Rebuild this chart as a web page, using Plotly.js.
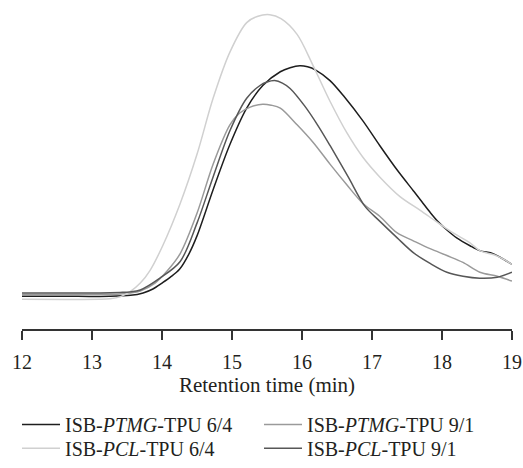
<!DOCTYPE html>
<html>
<head>
<meta charset="utf-8">
<script src="https://cdn.plot.ly/plotly-3.0.1.min.js"></script>
<style>html,body{margin:0;padding:0;background:#fff;}#chart{width:523px;height:468px;}</style>
</head>
<body>
<div id="chart"></div>
<script>
// Retention time (min) and detector response (arbitrary units)
const ptmg64_x = [12.0,12.8,13.25,13.55,13.73,13.87,14.0,14.12,14.25,14.38,14.5,14.73,14.97,15.21,15.44,15.69,15.83,15.97,16.08,16.19,16.4,16.61,16.87,17.11,17.36,17.59,17.71,17.83,17.95,18.07,18.21,18.4,18.54,18.73,18.86,19.0];
const ptmg64_y = [33.5,33.5,33.5,34.5,37,41,47,53,61,76,95,142,188,225,248,262,266,268,267,264,253,236,212,187,162,141,130,119,109,101,93,85,80,77,72,66];

const ptmg91_x = [12,13.11,13.4,13.54,13.69,13.9,14.07,14.26,14.5,14.73,14.97,15.11,15.26,15.44,15.56,15.69,15.93,16.16,16.4,16.64,16.87,17.11,17.36,17.59,17.83,18.07,18.3,18.54,18.79,19.0];
const ptmg91_y = [35.5,35.5,36,37,39,47,59,77,118,168,208,220,226,229,228,225,208,190,168,147,128,115,98,90,82,75,68,58,54,49];

const pcl64_x = [12.0,13.11,13.26,13.4,13.54,13.69,13.83,14.01,14.26,14.5,14.73,14.97,15.21,15.37,15.54,15.7,15.93,16.16,16.4,16.64,16.87,17.11,17.4,17.69,17.93,18.16,18.4,18.54,18.73,18.86,19.0];
const pcl64_y = [30.5,30.5,31,33,38,47,60,85,128,178,235,282,312,318.5,320,316,300,268,232,200,175,155,135,121,109,98,88,80,76,72,66];

const pcl91_x = [12,13.11,13.4,13.54,13.69,13.97,14.26,14.5,14.73,14.97,15.21,15.4,15.5,15.61,15.72,15.83,16.04,16.23,16.4,16.66,16.9,17.11,17.36,17.59,17.83,18.07,18.3,18.54,18.79,19.0];
const pcl91_y = [37,37,37.5,38,40,52,69,108,155,202,235,248,251.5,253,250.5,245,227,207,187,155,125,110,93,78,67,58,54,52,53,58];

const names = ['ISB-<i>PTMG</i>-TPU 6/4','ISB-<i>PTMG</i>-TPU 9/1','ISB-<i>PCL</i>-TPU 6/4','ISB-<i>PCL</i>-TPU 9/1'];
const xTicks = [12,13,14,15,16,17,18,19];

const W = 523, H = 468;
const serif = 'Liberation Serif, Times New Roman, serif';
const ink = '#231f20';
function tr(x, y, name, color, lg) {
  return {x: x, y: y, name: name, type: 'scatter', mode: 'lines', legend: lg,
    line: {color: color, width: 1.5, shape: 'spline', smoothing: 0.9}};
}
const data = [
  tr(ptmg64_x, ptmg64_y, names[0], '#1e1e1e', 'legend'),
  tr(ptmg91_x, ptmg91_y, names[1], '#9a9a9a', 'legend'),
  tr(pcl64_x, pcl64_y, names[2], '#d0d0d0', 'legend2'),
  tr(pcl91_x, pcl91_y, names[3], '#575757', 'legend2')
];
function lgd(py) {
  return {
    orientation: 'h', x: 17 / W, xanchor: 'left', y: (H - py) / H, yanchor: 'middle',
    entrywidth: 189, entrywidthmode: 'pixels', itemwidth: 38,
    font: {family: serif, size: 20, color: ink}, bgcolor: 'rgba(0,0,0,0)', borderwidth: 0
  };
}
const layout = {
  width: W, height: H,
  margin: {l: 0, r: 0, t: 0, b: 0},
  paper_bgcolor: '#fff', plot_bgcolor: '#fff',
  font: {family: serif, size: 20, color: ink},
  showlegend: true,
  xaxis: {
    domain: [22 / W, 512 / W],
    range: [12, 19], tickvals: xTicks, ticktext: xTicks.map(String),
    showgrid: false, zeroline: false, showline: true, linecolor: '#333', linewidth: 1.5,
    ticks: 'outside', ticklen: 9, tickwidth: 1.5, tickcolor: '#333', ticklabelstandoff: 5,
    tickfont: {family: serif, size: 20, color: ink},
    automargin: false,
    title: {text: 'Retention time (min)', font: {family: serif, size: 21, color: ink}, standoff: 1}
  },
  yaxis: {domain: [(H - 335) / H, (H - 10) / H], range: [0, 325], visible: false, fixedrange: true, automargin: false},
  legend: lgd(432),
  legend2: lgd(456)
};
Plotly.newPlot('chart', data, layout, {staticPlot: true, displayModeBar: false});
</script>
</body>
</html>
